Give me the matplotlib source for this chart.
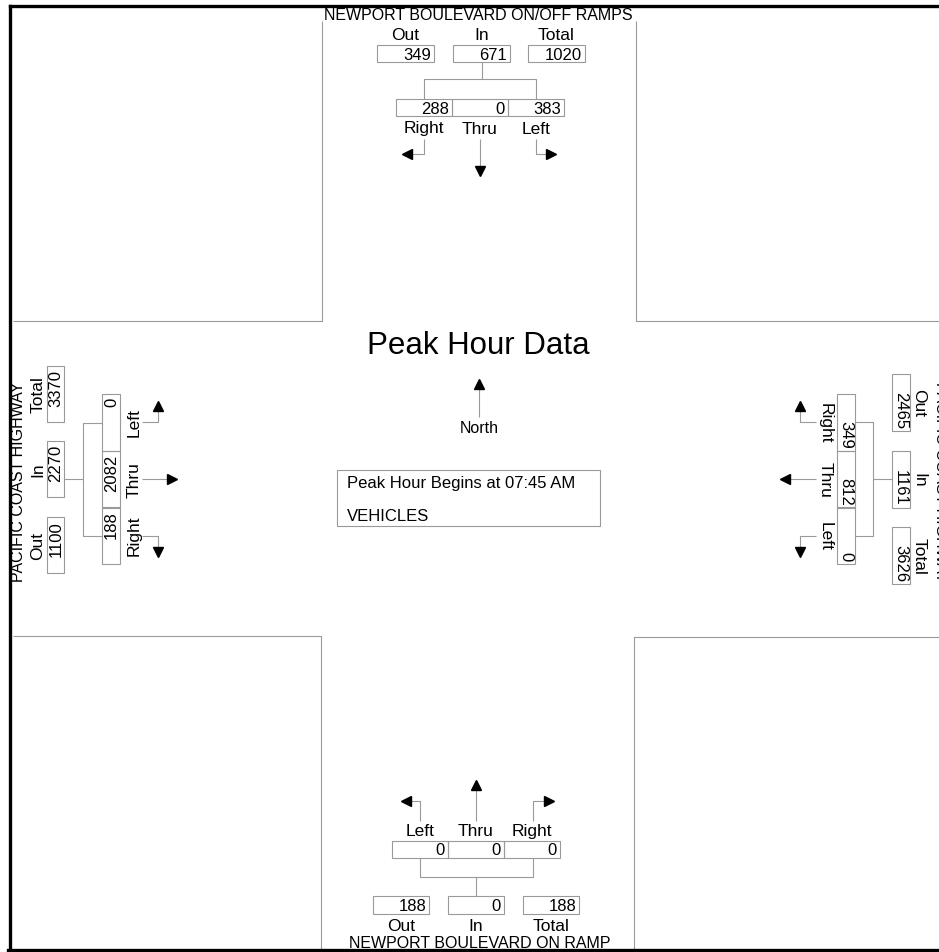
import matplotlib.pyplot as plt
from matplotlib.patches import Rectangle

plt.rcParams['font.family'] = ['Liberation Sans', 'DejaVu Sans']

# volumes per approach: totals = Out, In, Total
north_name = "NEWPORT BOULEVARD ON/OFF RAMPS"
north_totals = [349, 671, 1020]
north_moves = [288, 0, 383]          # Right, Thru, Left
south_name = "NEWPORT BOULEVARD ON RAMP"
south_totals = [188, 0, 188]
south_moves = [0, 0, 0]              # Left, Thru, Right
west_name = "PACIFIC COAST HIGHWAY"
west_totals = [1100, 2270, 3370]
west_moves = [188, 2082, 0]          # Right, Thru, Left
east_name = "PACIFIC COAST HIGHWAY"
east_totals = [2465, 1161, 3626]
east_moves = [349, 812, 0]           # Right, Thru, Left

total_labels = ["Out", "In", "Total"]
peak_text = "Peak Hour Begins at 07:45 AM"
unit_text = "VEHICLES"

GRAY = "#9a9a9a"
LW = 0.8
FS_NUM = 12
FS_LAB = 12.5
FS_TITLE = 11.5

fig = plt.figure(figsize=(9.39, 9.53), dpi=100)
ax = fig.add_axes([0, 0, 1, 1])
ax.set_xlim(0, 939)
ax.set_ylim(953, 0)
ax.axis('off')


def line(xs, ys):
    ax.plot(xs, ys, color=GRAY, lw=LW, solid_capstyle='butt')


def head(x, y, m):
    ax.plot([x], [y], marker=m, color='black', markersize=7, mec='black')


def box(x0, y0, w, h):
    ax.add_patch(Rectangle((x0, y0), w, h, fill=False, ec=GRAY, lw=LW))


def hbox(x0, y0, w, h, val):
    box(x0, y0, w, h)
    ax.text(x0 + w - 3, y0 + h / 2 + 0.5, str(val), ha='right', va='center', fontsize=FS_NUM)


def vbox(x0, y0, w, h, val, rot):
    box(x0, y0, w, h)
    if rot == 90:
        ax.text(x0 + w / 2 + 0.5, y0 + 3, str(val), rotation=90, ha='center', va='top', fontsize=FS_NUM)
    else:
        ax.text(x0 + w / 2 - 0.5, y0 + h - 3, str(val), rotation=-90, ha='center', va='bottom', fontsize=FS_NUM)


# frame
for xs, ys in [([10, 939], [7, 7]), ([10, 10], [7, 952]), ([8, 939], [951, 951])]:
    ax.plot(xs, ys, color='black', lw=2.4, zorder=5)

# corner blocks
line([13, 322, 322], [322, 322, 22])
line([939, 636, 636], [322, 322, 22])
line([13, 321, 321], [637, 637, 950])
line([939, 634, 634], [638, 638, 950])

# north approach
ax.text(478, 15, north_name, ha='center', va='center', fontsize=FS_TITLE)
for i, (lab, v) in enumerate(zip(total_labels, north_totals)):
    x0 = [377, 453, 528][i]
    ax.text(x0 + 28.5, 36, lab, ha='center', va='center', fontsize=FS_LAB)
    hbox(x0, 46, 57, 17, v)
line([482, 482], [63, 80])
line([424, 424, 536, 536], [100, 80, 80, 100])
for i, (lab, v) in enumerate(zip(["Right", "Thru", "Left"], north_moves)):
    x0 = [396, 452, 508][i]
    hbox(x0, 100, 56, 17, v)
    ax.text(x0 + 28, 129, lab, ha='center', va='center', fontsize=FS_LAB)
line([424, 424, 410], [140, 155, 155]); head(407, 155, '<')
line([480, 480], [140, 170]); head(480, 172, 'v')
line([536, 536, 548], [140, 155, 155]); head(551, 155, '>')

# south approach
line([420, 420, 409], [822, 802, 802]); head(406, 802, '<')
line([476, 476], [822, 789]); head(476, 786, '^')
line([533, 533, 546], [822, 802, 802]); head(549, 802, '>')
for i, (lab, v) in enumerate(zip(["Left", "Thru", "Right"], south_moves)):
    x0 = [392, 448, 504][i]
    ax.text(x0 + 28, 832, lab, ha='center', va='center', fontsize=FS_LAB)
    hbox(x0, 842, 56, 17, v)
line([420, 420, 533, 533], [859, 878, 878, 859])
line([476, 476], [878, 897])
for i, (lab, v) in enumerate(zip(total_labels, south_totals)):
    x0 = [373, 448, 523][i]
    hbox(x0, 897, 56, 18, v)
    ax.text(x0 + 28, 927, lab, ha='center', va='center', fontsize=FS_LAB)
ax.text(480, 944, south_name, ha='center', va='center', fontsize=FS_TITLE)

# west approach
ax.text(19, 482, west_name, rotation=90, ha='center', va='center', fontsize=FS_TITLE)
for i, (lab, v) in enumerate(zip(total_labels, west_totals)):
    y0 = [518, 442, 367][i]
    ax.text(38, y0 + 28, lab, rotation=90, ha='center', va='center', fontsize=FS_LAB)
    vbox(47, y0, 17, 56, v, 90)
line([64, 83], [480, 480])
line([102, 83, 83, 102], [424, 424, 537, 537])
for i, (lab, v) in enumerate(zip(["Right", "Thru", "Left"], west_moves)):
    y0 = [508, 452, 395][i]
    vbox(102, y0, 18, 56.5, v, 90)
    ax.text(134, y0 + 28, lab, rotation=90, ha='center', va='center', fontsize=FS_LAB)
line([142, 158, 158], [423, 423, 410]); head(158, 407, '^')
line([142, 170], [480, 480]); head(172, 480, '>')
line([142, 158, 158], [537, 537, 550]); head(158, 553, 'v')

# east approach
ax.text(941, 482, east_name, rotation=-90, ha='center', va='center', fontsize=FS_TITLE, clip_on=True)
for i, (lab, v) in enumerate(zip(total_labels, east_totals)):
    y0 = [375, 452, 528][i]
    ax.text(919, y0 + 28.5, lab, rotation=-90, ha='center', va='center', fontsize=FS_LAB)
    vbox(892, y0, 18, 57, v, -90)
line([892, 873], [480, 480])
line([855, 873, 873, 855], [423, 423, 537, 537])
for i, (lab, v) in enumerate(zip(["Right", "Thru", "Left"], east_moves)):
    y0 = [395, 452, 508][i]
    vbox(837, y0, 18, 56.5, v, -90)
    ax.text(825, y0 + 28, lab, rotation=-90, ha='center', va='center', fontsize=FS_LAB)
line([816, 800, 800], [423, 423, 410]); head(800, 407, '^')
line([816, 788], [480, 480]); head(785, 480, '<')
line([816, 800, 800], [537, 537, 550]); head(800, 553, 'v')

# centre
ax.text(478, 346, "Peak Hour Data", ha='center', va='center', fontsize=22.5)
line([479, 479], [390, 418]); head(479, 385, '^')
ax.text(479, 429, "North", ha='center', va='center', fontsize=11.5)
box(337, 471, 263, 56)
ax.text(347, 484, peak_text, ha='left', va='center', fontsize=FS_NUM)
ax.text(347, 517, unit_text, ha='left', va='center', fontsize=FS_NUM)

fig.savefig("out.png", dpi=100, facecolor='white')
